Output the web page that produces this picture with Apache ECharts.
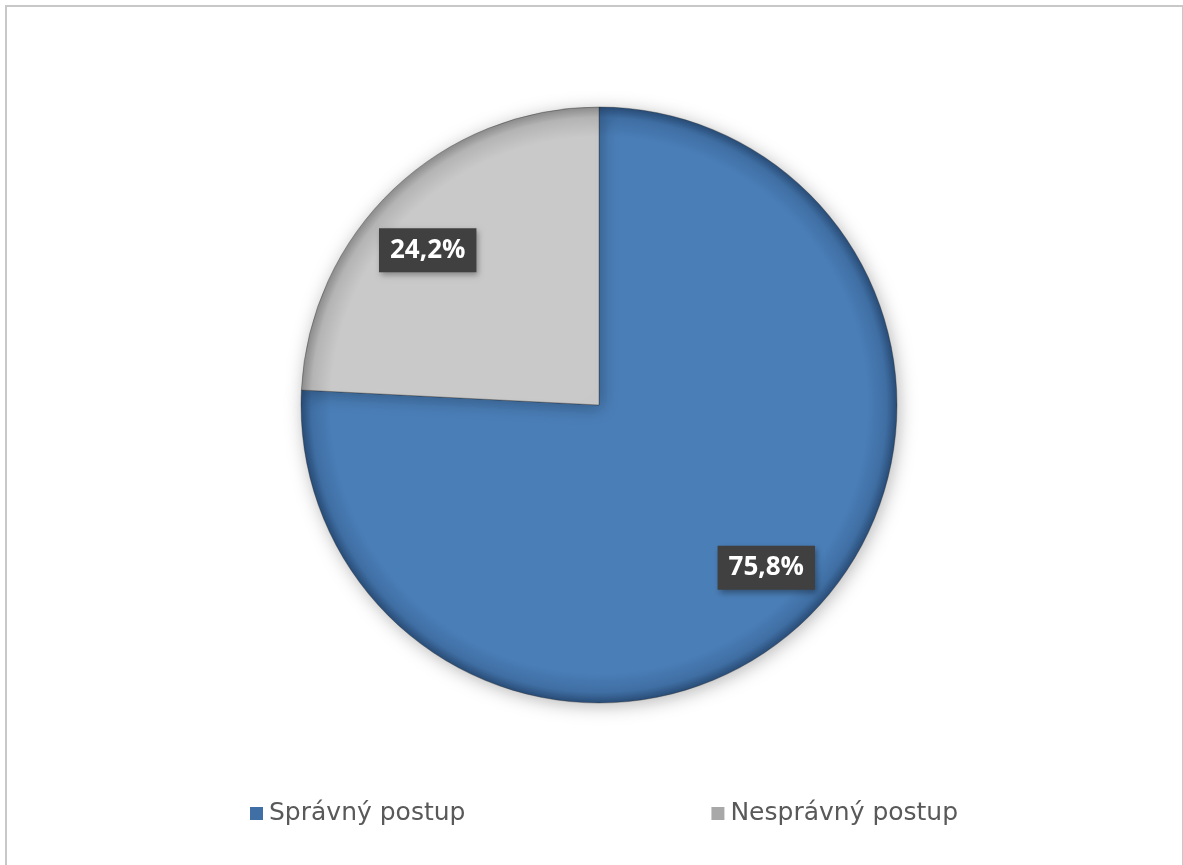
<!DOCTYPE html>
<html>
<head>
<meta charset="utf-8">
<script src="https://cdn.jsdelivr.net/npm/echarts@6/dist/echarts.min.js"></script>
<style>
  html, body { margin: 0; padding: 0; background: #ffffff; }
  #chart { width: 1183px; height: 865px; }
</style>
</head>
<body>
<div id="chart"></div>
<script>
// Share of correct vs. incorrect procedure
const categories = ['Správný postup', 'Nesprávný postup'];
const shares = [75.8, 24.2];

const CX = 599, CY = 405, R = 298;

const chart = echarts.init(document.getElementById('chart'), null, { renderer: 'canvas' });

// radial shading measured from the pie centre so each slice darkens at the rim
function rimShade(inner, mid, edge) {
  return {
    type: 'radial', x: CX, y: CY, r: R, global: true,
    colorStops: [
      { offset: 0, color: inner },
      { offset: 0.9, color: inner },
      { offset: 0.965, color: mid },
      { offset: 1, color: edge }
    ]
  };
}

const sliceFills = [
  rimShade('#4a7eb7', '#3f6ea3', '#294c76'),
  rimShade('#c9c9c9', '#b4b4b4', '#8c8c8c')
];

const legendIcons = ['#3f6fa5', '#a8a8a8'];
const labelOffsets = [[5, -8], [-9, 16]];

const pieData = categories.map((name, i) => ({
  name,
  value: shares[i],
  itemStyle: { color: sliceFills[i] }
}));

const labelData = categories.map((name, i) => ({
  name,
  value: shares[i],
  label: { offset: labelOffsets[i] }
}));

const fmt = p => p.value.toFixed(1).replace('.', ',') + '%';

chart.setOption({
  animation: false,
  backgroundColor: '#ffffff',
  graphic: [{
    type: 'rect',
    shape: { x: 6, y: 6, width: 1177, height: 870 },
    style: { fill: 'none', stroke: '#c8c8c8', lineWidth: 2 },
    silent: true
  }],
  legend: {
    data: categories.map((name, i) => ({
      name,
      itemStyle: { color: legendIcons[i], borderWidth: 0, shadowBlur: 0 }
    })),
    bottom: 34,
    left: 245,
    icon: 'rect',
    itemWidth: 13,
    itemHeight: 13,
    itemGap: 246,
    textStyle: {
      fontFamily: 'DejaVu Sans',
      fontSize: 25,
      color: '#595959',
      padding: [0, 0, 0, 1]
    }
  },
  series: [
    {
      type: 'pie',
      center: [CX, CY],
      radius: [0, R],
      startAngle: 90,
      clockwise: true,
      silent: true,
      label: { show: false },
      labelLine: { show: false },
      itemStyle: {
        borderColor: 'rgba(40,40,40,0.35)',
        borderWidth: 1,
        shadowBlur: 18,
        shadowColor: 'rgba(0,0,0,0.28)',
        shadowOffsetX: 2,
        shadowOffsetY: 3
      },
      data: pieData
    },
    {
      // transparent ring that only carries the value labels further out
      type: 'pie',
      center: [CX, CY],
      radius: [167, R],
      startAngle: 90,
      clockwise: true,
      silent: true,
      itemStyle: { color: 'rgba(0,0,0,0)' },
      labelLine: { show: false },
      label: {
        show: true,
        position: 'inside',
        formatter: fmt,
        fontFamily: 'Open Sans',
        fontWeight: 'bold',
        fontSize: 26,
        color: '#ffffff',
        backgroundColor: '#404040',
        padding: [10, 11, 8, 11],
        shadowBlur: 6,
        shadowColor: 'rgba(0,0,0,0.35)',
        shadowOffsetX: 2,
        shadowOffsetY: 3
      },
      data: labelData
    }
  ]
});
</script>
</body>
</html>
